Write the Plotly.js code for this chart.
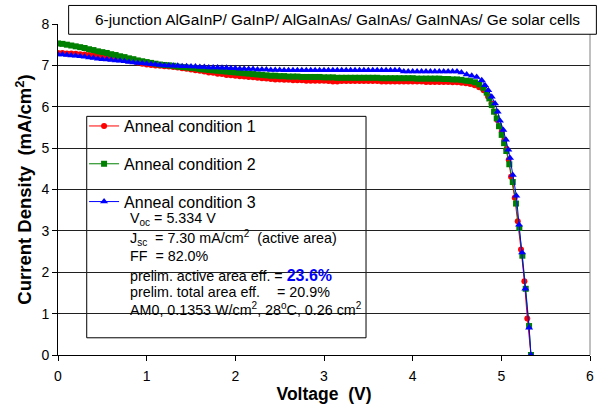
<!DOCTYPE html>
<html>
<head>
<meta charset="utf-8">
<script src="https://cdn.plot.ly/plotly-3.0.1.min.js"></script>
<style>html,body{margin:0;padding:0;background:#fff;}#chart{width:598px;height:404px;}</style>
</head>
<body>
<div id="chart"></div>
<script>
// Shared voltage grid for the flat part of the curves (V)
const vFlat = [0,0.05,0.1,0.15,0.2,0.25,0.3,0.35,0.4,0.45,0.5,0.55,0.6,0.65,0.7,0.75,0.8,0.85,0.9,0.95,
  1.0,1.05,1.1,1.15,1.2,1.25,1.3,1.35,1.4,1.45,1.5,1.55,1.6,1.65,1.7,1.75,1.8,1.85,1.9,1.95,
  2.0,2.05,2.1,2.15,2.2,2.25,2.3,2.35,2.4,2.45,2.5,2.55,2.6,2.65,2.7,2.75,2.8,2.85,2.9,2.95,
  3.0,3.05,3.1,3.15,3.2,3.25,3.3,3.35,3.4,3.45,3.5,3.55,3.6,3.65,3.7,3.75,3.8,3.85,3.9,3.95,
  4.0,4.05,4.1,4.15,4.2,4.25,4.3,4.35,4.4,4.45,4.5];

// Anneal condition 1 (red)
const j1Flat = [7.30,7.30,7.29,7.29,7.28,7.27,7.26,7.25,7.24,7.23,7.22,7.20,7.19,7.17,7.16,7.14,7.12,7.10,7.07,7.04,
  7.02,7.01,7.00,6.99,6.98,6.97,6.96,6.95,6.93,6.92,6.90,6.88,6.87,6.85,6.83,6.82,6.80,6.79,6.77,6.76,
  6.75,6.74,6.73,6.72,6.71,6.70,6.69,6.68,6.67,6.66,6.66,6.65,6.65,6.64,6.64,6.64,6.63,6.63,6.63,6.63,
  6.63,6.62,6.61,6.61,6.62,6.62,6.62,6.62,6.62,6.62,6.62,6.62,6.62,6.61,6.61,6.61,6.61,6.61,6.61,6.61,
  6.61,6.61,6.61,6.60,6.60,6.60,6.60,6.60,6.60,6.59,6.59];
const v1Knee = [4.55,4.60,4.65,4.70,4.75,4.80,4.85,4.89,4.93,4.955,4.977,5.005,5.034,5.058,5.083,5.109,5.151,5.185,5.222,5.260,5.293,5.334];
const j1Knee = [6.58,6.57,6.55,6.52,6.47,6.40,6.25,6.08,5.88,5.68,5.53,5.40,5.20,4.98,4.72,4.31,3.80,3.23,2.55,1.78,0.88,0];

// Anneal condition 2 (green)
const j2Flat = [7.53,7.52,7.50,7.48,7.46,7.44,7.42,7.39,7.37,7.34,7.32,7.30,7.27,7.25,7.22,7.20,7.17,7.15,7.12,7.10,
  7.08,7.06,7.04,7.02,7.01,7.00,6.99,6.97,6.96,6.95,6.94,6.93,6.91,6.90,6.89,6.88,6.87,6.86,6.85,6.84,
  6.83,6.82,6.81,6.80,6.79,6.78,6.77,6.76,6.75,6.75,6.74,6.74,6.73,6.73,6.73,6.72,6.72,6.72,6.72,6.72,
  6.71,6.71,6.71,6.70,6.70,6.70,6.70,6.70,6.70,6.70,6.70,6.70,6.70,6.69,6.69,6.69,6.69,6.69,6.69,6.69,
  6.69,6.68,6.68,6.68,6.68,6.68,6.68,6.67,6.67,6.66,6.66];
const v2Knee = [4.55,4.60,4.647,4.703,4.752,4.797,4.835,4.865,4.892,4.918,4.948,4.974,5.004,5.031,5.056,5.090,5.129,5.166,5.203,5.237,5.275,5.313,5.334];
const j2Knee = [6.65,6.63,6.62,6.59,6.54,6.46,6.34,6.20,6.04,5.88,5.72,5.53,5.32,5.12,4.93,4.61,4.18,3.66,3.07,2.40,1.60,0.70,0];

// Anneal condition 3 (blue)
const j3Flat = [7.26,7.26,7.25,7.24,7.23,7.22,7.21,7.19,7.18,7.16,7.15,7.14,7.13,7.12,7.11,7.10,7.08,7.07,7.06,7.05,
  7.04,7.03,7.02,7.01,7.00,7.00,6.99,6.99,6.98,6.98,6.97,6.97,6.96,6.96,6.95,6.95,6.95,6.94,6.94,6.93,
  6.93,6.92,6.92,6.91,6.91,6.90,6.90,6.90,6.89,6.89,6.89,6.88,6.88,6.88,6.88,6.88,6.88,6.88,6.88,6.88,
  6.88,6.88,6.88,6.88,6.88,6.88,6.88,6.88,6.88,6.88,6.88,6.88,6.88,6.88,6.88,6.88,6.88,6.88,6.85,6.85,
  6.85,6.85,6.85,6.85,6.85,6.85,6.85,6.85,6.85,6.85,6.85];
const v3Knee = [4.55,4.609,4.666,4.722,4.779,4.816,4.853,4.892,4.929,4.959,4.985,5.023,5.053,5.079,5.098,5.129,5.169,5.200,5.234,5.271,5.313,5.334];
const j3Knee = [6.83,6.78,6.75,6.72,6.64,6.52,6.40,6.24,6.08,5.88,5.66,5.44,5.20,4.96,4.76,4.35,3.85,3.15,2.48,1.60,0.66,0];

const seriesNames = ["Anneal condition 1","Anneal condition 2","Anneal condition 3"];
const xTickVals = [0,1,2,3,4,5,6];
const yTickVals = [0,1,2,3,4,5,6,7,8];

const titleText = "6-junction AlGaInP/ GaInP/ AlGaInAs/ GaInAs/ GaInNAs/ Ge solar cells";
const infoLines = [
  "V<sub>oc</sub> = 5.334 V",
  "J<sub>sc</sub>\u00A0 = 7.30 mA/cm<sup>2</sup>\u00A0 (active area)",
  "FF\u00A0 = 82.0%",
  "prelim. active area eff. = <b><span style='color:#0000ff;font-size:16px'>23.6%</span></b>",
  "prelim. total area eff.",
  "AM0, 0.1353 W/cm<sup>2</sup>, 28<sup>o</sup>C, 0.26 cm<sup>2</sup>"
];
const totalEffText = "= 20.9%";

const colors = ["#ff0000","#008000","#0000ff"];
const symbols = ["circle","square","triangle-up"];
const msizes = [6,6,7];
const xs = [vFlat.concat(v1Knee), vFlat.concat(v2Knee), vFlat.concat(v3Knee)];
const ys = [j1Flat.concat(j1Knee), j2Flat.concat(j2Knee), j3Flat.concat(j3Knee)];

const traces = seriesNames.map((n,i)=>({
  type:"scatter", mode:"lines+markers", name:n, x:xs[i], y:ys[i],
  legendgroup:"g"+i,
  line:{color:colors[i], width:1},
  marker:{color:colors[i], symbol:symbols[i], size:msizes[i], line:{width:0}}
}));

const font = "'Liberation Sans', Arial, sans-serif";
const infoY = [0.41,0.353,0.299,0.239,0.189,0.138];
const infoSize = 14.3;
const annotations = infoLines.map((t,i)=>({
  xref:"paper", yref:"paper", x:0.132, y:infoY[i], xanchor:"left", yanchor:"middle",
  text:t, showarrow:false, font:{family:font, size:infoSize, color:"#000"}
}));
annotations.push({xref:"paper", yref:"paper", x:0.408, y:infoY[4], xanchor:"left", yanchor:"middle",
  text:totalEffText, showarrow:false, font:{family:font, size:infoSize, color:"#000"}});
annotations.push({xref:"paper", yref:"paper", x:0.525, y:1.0126, xanchor:"center", yanchor:"middle",
  text:titleText, showarrow:false, font:{family:font, size:15.4, color:"#000"}});

const layout = {
  width:598, height:404,
  margin:{l:58, r:8, t:24, b:49},
  paper_bgcolor:"#fff", plot_bgcolor:"#fff",
  font:{family:font, color:"#000"},
  xaxis:{range:[0,6], tickvals:xTickVals, showgrid:false, zeroline:false,
    showline:true, linecolor:"#000", linewidth:1, ticks:"outside", ticklen:5, tickcolor:"#000",
    ticklabelstandoff:3,
    tickfont:{family:font, size:14, color:"#000"},
    title:{text:"<b>Voltage\u00A0\u00A0(V)</b>", font:{family:font, size:17.5, color:"#000"}, standoff:1}},
  yaxis:{range:[0,8], tickvals:yTickVals, showgrid:true, gridcolor:"#202020", gridwidth:1, zeroline:false,
    showline:true, linecolor:"#000", linewidth:1, ticks:"outside", ticklen:5, tickcolor:"#000",
    tickfont:{family:font, size:14, color:"#000"},
    title:{text:"<b>Current Density\u00A0\u00A0(mA/cm<sup>2</sup>)</b>", font:{family:font, size:18.5, color:"#000"}, standoff:4}},
  showlegend:true,
  legend:{x:0.049, y:0.743, xanchor:"left", yanchor:"top", bgcolor:"rgba(0,0,0,0)", borderwidth:0,
    font:{family:font, size:16, color:"#000"}, traceorder:"grouped", tracegroupgap:14, itemwidth:30},
  shapes:[
    {type:"line", xref:"paper", yref:"paper", x0:1, x1:1, y0:0, y1:1, line:{color:"#808080", width:1}},
    {type:"rect", xref:"paper", yref:"paper", x0:0.054, x1:0.579, y0:0.052, y1:0.721,
      line:{color:"#000", width:1}, fillcolor:"rgba(255,255,255,1)", layer:"below"},
    {type:"rect", xref:"paper", yref:"paper", x0:0.020, x1:1.012, y0:0.969, y1:1.056,
      line:{color:"#000", width:1}, fillcolor:"#fff", layer:"above"}
  ],
  annotations:annotations
};
Plotly.newPlot("chart", traces, layout, {displayModeBar:false, staticPlot:true});
</script>
</body>
</html>
